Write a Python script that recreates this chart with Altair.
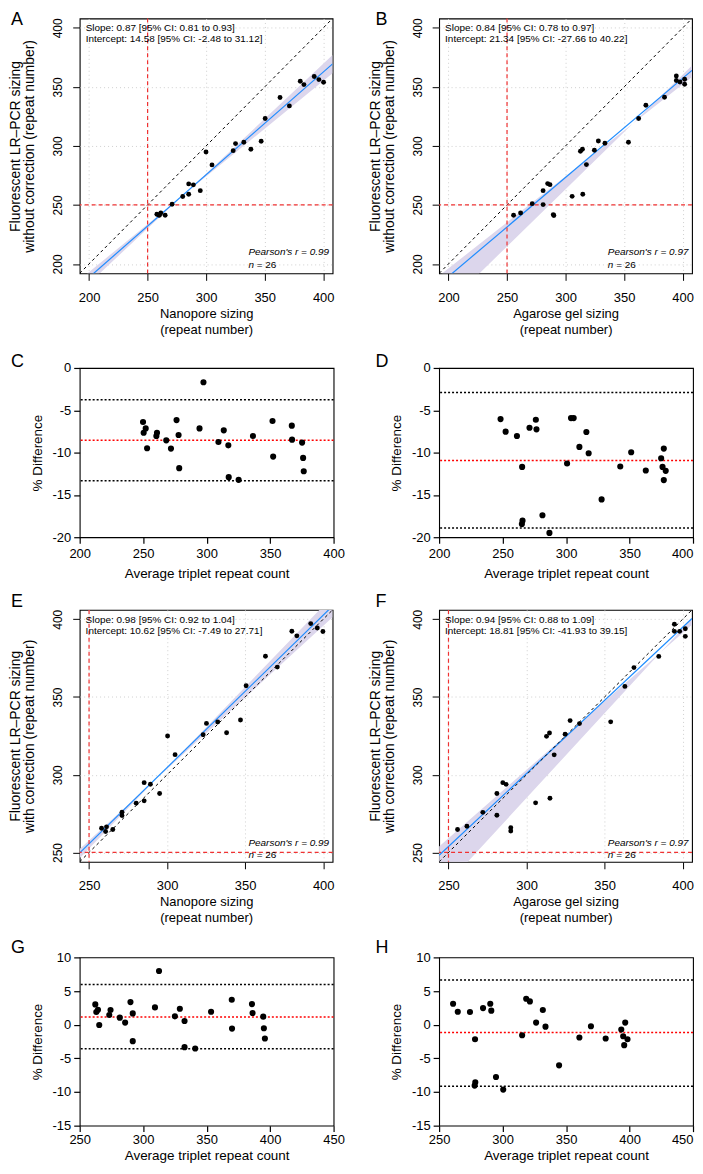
import altair as alt
import pandas as pd

FONT = "Liberation Sans"
BLUE = "#1E8CFF"
BAND = "#DCD6EC"
RED = "#F03232"
GRID = "#CFCFCF"

# ---------------- Panel A : Nanopore vs LR-PCR (no correction) ----------------
a_nano = [257.9, 259.5, 260.1, 261.3, 265.0, 270.9, 280.0, 285.1, 285.1, 289.1, 295.0, 299.9, 305.0,
          323.1, 325.1, 332.2, 338.2, 347.0, 350.4, 363.1, 371.1, 380.4, 383.5, 392.3, 396.3, 400.3]
a_lr = [242.1, 241.5, 241.2, 243.2, 241.2, 250.6, 257.1, 259.0, 267.8, 267.0, 262.1, 294.9, 283.9,
        296.0, 302.0, 303.1, 297.2, 304.0, 323.2, 341.0, 333.9, 354.8, 352.0, 358.8, 356.2, 354.0]
a_fit = [0.87, 0.81, 0.93, 14.58, -2.48, 31.12]   # slope, slope lo, slope hi, intercept, lo, hi
a_r = 0.99

# ---------------- Panel B : Agarose gel vs LR-PCR (no correction) ----------------
b_gel = [255.6, 261.6, 271.5, 280.8, 280.8, 284.7, 286.7, 289.5, 290.0, 305.6, 312.7, 314.4, 314.7,
         317.8, 324.6, 328.0, 333.6, 353.7, 362.4, 368.6, 384.5, 394.6, 394.6, 397.7, 401.7, 401.7]
b_lr = [241.2, 243.2, 251.1, 262.1, 250.3, 268.1, 267.2, 241.8, 241.0, 257.3, 295.5, 297.2, 259.0,
        284.2, 296.3, 304.2, 302.3, 303.1, 323.2, 334.5, 341.2, 359.3, 355.4, 354.2, 356.5, 352.3]
b_fit = [0.84, 0.78, 0.97, 21.34, -27.66, 40.22]
b_r = 0.97

# ---------------- Panel C : Bland-Altman (Nanopore, no correction) ----------------
c_avg = [249.9, 250.4, 252.0, 253.1, 260.4, 260.9, 268.2, 271.9, 276.3, 277.9, 278.4, 294.4, 297.5,
         309.3, 313.5, 317.1, 317.4, 325.2, 336.5, 351.9, 352.4, 367.1, 367.3, 375.2, 376.0, 376.5]
c_diff = [-6.39, -7.65, -7.14, -9.49, -8.04, -7.65, -8.55, -9.53, -6.16, -7.92, -11.84, -7.14, -1.69,
          -8.75, -7.37, -9.14, -12.90, -13.22, -8.04, -6.27, -10.47, -6.82, -8.47, -8.82, -10.63, -12.20]
c_lines = [-8.55, -3.76, -13.33]   # mean, upper, lower

# ---------------- Panel D : Bland-Altman (Agarose gel, no correction) ----------------
d_avg = [248.4, 252.4, 261.3, 265.4, 265.7, 265.2, 271.2, 276.2, 276.7, 281.4, 286.9, 300.8, 303.9,
         306.0, 310.5, 316.0, 317.8, 328.0, 342.7, 351.3, 362.8, 374.9, 377.0, 376.0, 378.5, 377.0]
d_diff = [-6.04, -7.53, -8.04, -11.69, -18.04, -18.45, -7.06, -6.12, -7.25, -17.41, -19.49, -11.29, -5.92,
          -5.92, -9.33, -7.57, -10.08, -15.53, -11.65, -9.96, -12.12, -10.67, -9.53, -11.69, -12.16, -13.25]
d_lines = [-10.94, -2.90, -18.90]

# ---------------- Panel E : Nanopore vs LR-PCR (with correction) ----------------
e_nano = [258.0, 260.6, 261.2, 265.2, 271.1, 271.1, 280.2, 285.3, 285.3, 289.3, 295.2, 300.3, 305.1,
          323.1, 325.2, 332.4, 338.1, 347.0, 350.6, 363.0, 370.6, 379.9, 383.1, 392.0, 396.2, 399.8]
e_lr = [265.6, 263.5, 266.5, 264.8, 275.9, 273.7, 281.7, 283.2, 294.9, 293.9, 287.9, 324.9, 312.9,
        325.7, 333.0, 333.9, 327.0, 335.2, 357.2, 376.2, 369.2, 392.3, 389.3, 397.2, 394.4, 392.1]
e_fit = [0.98, 0.92, 1.04, 10.62, -7.49, 27.71]
e_r = 0.99

# ---------------- Panel F : Agarose gel vs LR-PCR (with correction) ----------------
f_gel = [255.8, 261.8, 272.0, 281.0, 281.0, 284.8, 286.9, 289.9, 289.9, 305.8, 312.8, 314.7, 315.0,
         317.7, 324.7, 327.9, 333.9, 353.9, 363.0, 368.8, 384.7, 394.7, 394.7, 398.1, 401.7, 401.7]
f_lr = [264.8, 266.9, 275.8, 287.9, 273.9, 294.9, 293.8, 265.9, 263.8, 281.9, 324.7, 326.8, 284.9,
        312.8, 326.0, 334.8, 332.9, 334.0, 356.8, 368.9, 376.1, 396.8, 392.2, 392.2, 393.9, 389.0]
f_fit = [0.94, 0.88, 1.09, 18.81, -41.93, 39.15]
f_r = 0.97

# ---------------- Panel G : Bland-Altman (Nanopore, with correction) ----------------
g_avg = [262.3, 263.1, 264.4, 265.4, 273.3, 274.3, 281.6, 285.8, 290.0, 291.8, 291.8, 309.3, 312.5,
         325.0, 328.9, 332.6, 332.6, 341.0, 353.5, 369.8, 370.0, 385.7, 386.2, 394.6, 395.1, 395.9]
g_diff = [3.01, 1.88, 2.22, -0.04, 1.44, 2.18, 1.04, 0.31, 3.36, 1.68, -2.45, 2.57, 7.98,
          1.24, 2.37, 0.55, -3.34, -3.53, 1.93, 3.70, -0.58, 3.06, 1.73, 1.19, -0.53, -2.06]
g_lines = [1.14, 5.96, -3.58]

# ---------------- Panel H : Bland-Altman (Agarose gel, with correction) ----------------
h_avg = [261.0, 264.7, 274.3, 278.0, 278.5, 278.3, 284.6, 290.3, 291.1, 294.8, 300.5, 315.4, 318.6,
         321.5, 326.4, 331.7, 333.8, 344.5, 360.5, 369.6, 381.2, 393.5, 395.0, 395.8, 396.6, 398.4]
h_diff = [3.11, 1.93, 1.88, -9.05, -8.55, -2.16, 2.47, 3.11, 2.08, -7.77, -9.64, -1.57, 3.85,
          3.46, 0.31, 2.18, -0.29, -6.04, -1.91, -0.24, -2.06, -0.73, -1.71, -3.04, 0.31, -2.16]
h_lines = [-1.17, 6.65, -9.14]

N_SAMPLES = 26

ticks_ab = [200, 250, 300, 350, 400]
ticks_ef = [250, 300, 350, 400]
dom_ab = [192, 408]
dom_ef = [244, 406]


def label_layer(label, lx, ly, X, Y):
    df = pd.DataFrame({"x": [lx], "y": [ly], "t": [label]})
    return alt.Chart(df).mark_text(align="left", baseline="top", fontSize=18, color="black",
                                   font=FONT, clip=False).encode(x=X(), y=Y(), text="t:N")


def scatter_panel(xv, yv, fit, r, dom, ticks, xtitle, ytitle, label, lab_xy,
                  txt_x, txt_y, pr_x, pr_y, n_dx, w, h):
    s, slo, shi, b, blo, bhi = fit
    lo, hi = dom
    xsc = alt.Scale(domain=dom, nice=False, zero=False)
    ysc = alt.Scale(domain=dom, nice=False, zero=False)
    xax = alt.Axis(values=ticks, title=xtitle, orient="bottom", domain=False,
                   tickSize=7, tickColor="black", tickWidth=1,
                   labelFontSize=13, labelPadding=11, labelFlush=False, labelOverlap=False,
                   titleFontSize=13, titleFontWeight="normal", titlePadding=3, titleLineHeight=16,
                   grid=True, gridColor=GRID, gridDash=[1, 3], gridWidth=1)
    yax = alt.Axis(values=ticks, title=ytitle, orient="left", domain=False,
                   tickSize=7, tickColor="black", tickWidth=1,
                   labelFontSize=12, labelAngle=270, labelAlign="center",
                   labelBaseline="alphabetic", labelPadding=11, labelFlush=False, labelOverlap=False,
                   titleFontSize=14, titleFontWeight="normal", titlePadding=15, titleLineHeight=14,
                   grid=True, gridColor=GRID, gridDash=[1, 3], gridWidth=1)

    def X():
        return alt.X("x:Q", scale=xsc, axis=xax)

    def Y():
        return alt.Y("y:Q", scale=ysc, axis=yax)

    xc = (bhi - blo) / (shi - slo)
    bx = [lo, xc, hi]
    band = pd.DataFrame({"x": bx,
                         "y": [shi * v + blo for v in bx],
                         "y2": [slo * v + bhi for v in bx]})
    fitline = pd.DataFrame({"x": [lo, hi], "y": [s * lo + b, s * hi + b]})
    ident = pd.DataFrame({"x": [lo, hi], "y": [lo, hi]})
    pts = pd.DataFrame({"x": xv, "y": yv})

    l_band = alt.Chart(band).mark_area(clip=True, color=BAND, opacity=1).encode(
        x=X(), y=Y(), y2="y2:Q")
    l_fit = alt.Chart(fitline).mark_line(clip=True, color=BLUE, strokeWidth=1.2).encode(x=X(), y=Y())
    l_id = alt.Chart(ident).mark_line(clip=True, color="black", strokeWidth=1,
                                      strokeDash=[3, 3]).encode(x=X(), y=Y())
    l_vr = alt.Chart(pd.DataFrame({"x": [250]})).mark_rule(color=RED, strokeWidth=1.2,
                                                           strokeDash=[4, 3]).encode(x=X())
    l_hr = alt.Chart(pd.DataFrame({"y": [250]})).mark_rule(color=RED, strokeWidth=1.2,
                                                           strokeDash=[4, 3]).encode(y=Y())
    l_pts = alt.Chart(pts).mark_circle(size=24, color="black", opacity=1).encode(x=X(), y=Y())

    t1 = f"Slope: {s:.2f} [95% CI: {slo:.2f} to {shi:.2f}]"
    t2 = f"Intercept: {b:.2f} [95% CI: {blo:.2f} to {bhi:.2f}]"
    txt = pd.DataFrame({"x": [txt_x, txt_x], "y": txt_y, "t": [t1, t2]})
    l_txt = alt.Chart(txt).mark_text(align="left", baseline="middle", fontSize=10,
                                     color="black", font=FONT).encode(x=X(), y=Y(), text="t:N")
    pr = pd.DataFrame({"x": [pr_x], "y": [pr_y[0]], "t": [f"Pearson's r = {r:.2f}"]})
    l_pr = alt.Chart(pr).mark_text(align="left", baseline="middle", fontSize=10, fontStyle="italic",
                                   color="black", font=FONT).encode(x=X(), y=Y(), text="t:N")
    nn = pd.DataFrame({"x": [pr_x], "y": [pr_y[1]], "t": ["n"]})
    l_n = alt.Chart(nn).mark_text(align="left", baseline="middle", fontSize=10, fontStyle="italic",
                                  color="black", font=FONT).encode(x=X(), y=Y(), text="t:N")
    nv = pd.DataFrame({"x": [pr_x + n_dx], "y": [pr_y[1]], "t": [f"= {N_SAMPLES}"]})
    l_nv = alt.Chart(nv).mark_text(align="left", baseline="middle", fontSize=10,
                                   color="black", font=FONT).encode(x=X(), y=Y(), text="t:N")
    l_lab = label_layer(label, lab_xy[0], lab_xy[1], X, Y)

    return alt.layer(l_band, l_fit, l_id, l_vr, l_hr, l_pts, l_txt, l_pr, l_n, l_nv, l_lab).properties(
        width=w, height=h)


def ba_panel(xv, yv, lines, xdom, xticks, ydom, yticks, label, lab_xy, w, h,
             lab_pad=4, title_pad=6, last_right=False):
    xsc = alt.Scale(domain=xdom, nice=False, zero=False)
    ysc = alt.Scale(domain=ydom, nice=False, zero=False)
    if last_right:
        lab_align = {"condition": {"test": f"datum.value >= {xticks[-1]}", "value": "right"},
                     "value": "center"}
    else:
        lab_align = "center"
    xax = alt.Axis(values=xticks, title="Average triplet repeat count", orient="bottom", domain=False,
                   tickSize=6, tickColor="black", tickWidth=1.2,
                   labelFontSize=13, labelPadding=lab_pad, labelFlush=False, labelOverlap=False,
                   labelAlign=lab_align,
                   titleFontSize=13.5, titleFontWeight="normal", titlePadding=title_pad, grid=False)
    yax = alt.Axis(values=yticks, title="% Difference", orient="left", domain=False,
                   tickSize=6, tickColor="black", tickWidth=1.2,
                   labelFontSize=13, labelPadding=3, labelFlush=False, labelOverlap=False,
                   labelExpr="'' + datum.value",
                   titleFontSize=13.5, titleFontWeight="normal", titlePadding=8, grid=False)

    def X():
        return alt.X("x:Q", scale=xsc, axis=xax)

    def Y():
        return alt.Y("y:Q", scale=ysc, axis=yax)

    pts = pd.DataFrame({"x": xv, "y": yv})
    l_mean = alt.Chart(pd.DataFrame({"y": [lines[0]]})).mark_rule(
        color="#FF0000", strokeWidth=1.5, strokeDash=[2, 2]).encode(y=Y())
    l_loa = alt.Chart(pd.DataFrame({"y": lines[1:]})).mark_rule(
        color="black", strokeWidth=1.5, strokeDash=[2, 2]).encode(y=Y())
    l_pts = alt.Chart(pts).mark_circle(size=38, color="black", opacity=1).encode(x=X(), y=Y())
    l_lab = label_layer(label, lab_xy[0], lab_xy[1], X, Y)
    return alt.layer(l_loa, l_mean, l_pts, l_lab).properties(width=w, height=h)


def spacer(h):
    return alt.Chart(pd.DataFrame({"x": [0]})).mark_point(opacity=0).encode(
        x=alt.X("x:Q", axis=None), y=alt.Y("x:Q", axis=None)).properties(
        width=1, height=h, view=alt.ViewBackground(strokeOpacity=0))


x_nano = ["Nanopore sizing", "(repeat number)"]
x_gel = ["Agarose gel sizing", "(repeat number)"]
y_wo = ["Fluorescent LR–PCR sizing", "without correction (repeat number)"]
y_w = ["Fluorescent LR–PCR sizing", "with correction (repeat number)"]

ticks_cd_x = [200, 250, 300, 350, 400]
ticks_gh_x = [250, 300, 350, 400, 450]

A = scatter_panel(a_nano, a_lr, a_fit, a_r, dom_ab, ticks_ab, x_nano, y_wo, "A", [133.3, 413.9],
                  197.1, [399.6, 390.3], 336.1, [210.0, 199.3], 7.1, 254, 256)
B = scatter_panel(b_gel, b_lr, b_fit, b_r, dom_ab, ticks_ab, x_gel, y_wo, "B", [137.6, 413.9],
                  197.1, [399.6, 390.3], 336.1, [210.0, 199.3], 7.1, 254, 256)
C = ba_panel(c_avg, c_diff, c_lines, [200, 400], ticks_cd_x,
             [-20, 0], [0, -5, -10, -15, -20], "C", [145.9, 1.76], 255, 170)
D = ba_panel(d_avg, d_diff, d_lines, [200, 400], ticks_cd_x,
             [-20, 0], [0, -5, -10, -15, -20], "D", [149.8, 1.76], 255, 170, last_right=True)
E = scatter_panel(e_nano, e_lr, e_fit, e_r, dom_ef, ticks_ef, x_nano, y_w, "E", [200.0, 416.9],
                  247.8, [399.6, 392.6], 352.1, [256.2, 248.5], 5.3, 254, 253)
F = scatter_panel(f_gel, f_lr, f_fit, f_r, dom_ef, ticks_ef, x_gel, y_w, "F", [203.2, 416.9],
                  247.8, [399.6, 392.6], 352.1, [256.2, 248.5], 5.3, 254, 253)
G = ba_panel(g_avg, g_diff, g_lines, [250, 450], ticks_gh_x,
             [-15, 10], [10, 5, 0, -5, -10, -15], "G", [195.9, 12.66], 255, 169,
             lab_pad=2, title_pad=2)
H = ba_panel(h_avg, h_diff, h_lines, [250, 450], ticks_gh_x,
             [-15, 10], [10, 5, 0, -5, -10, -15], "H", [199.8, 12.66], 255, 169,
             lab_pad=2, title_pad=2, last_right=True)

chart = alt.concat(
    A, B, spacer(95), spacer(95),
    C, D, spacer(73), spacer(73),
    E, F, spacer(96), spacer(96),
    G, H,
    columns=2, spacing={"row": 0, "column": 106}, bounds="flush", align="each",
).properties(padding=0, background="white").configure(font=FONT).configure_view(
    stroke="black", strokeWidth=1.1
).configure_axis(labelColor="black", titleColor="black", labelFont=FONT, titleFont=FONT)

chart.save("out.html", embed_options={"renderer": "svg", "actions": False})
